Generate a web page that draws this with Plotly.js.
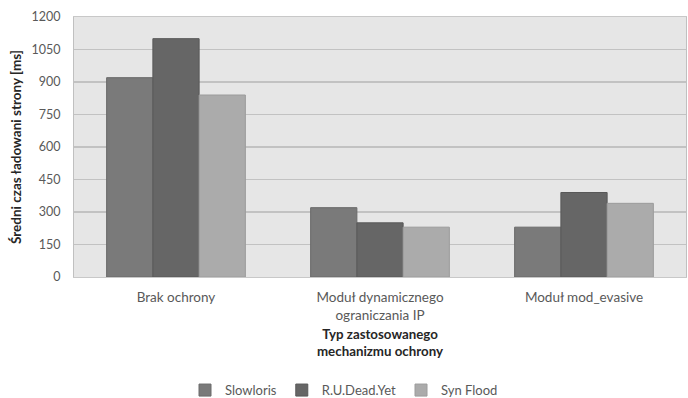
<!DOCTYPE html>
<html>
<head>
<meta charset="utf-8">
<script src="https://cdn.plot.ly/plotly-3.0.1.min.js"></script>
<style>
  html, body { margin: 0; padding: 0; background: #ffffff; }
  #chart { width: 688px; height: 398px; }
</style>
</head>
<body>
<div id="chart"></div>
<script>
// Protection mechanisms (x categories)
const categories = ['Brak ochrony', 'Moduł dynamicznego<br>ograniczania IP', 'Moduł mod_evasive'];

// Average page load time [ms] per attack type
const slowloris = [920, 320, 230];
const ruDeadYet = [1100, 250, 390];
const synFlood  = [840, 230, 340];

const seriesNames = ['Slowloris', 'R.U.Dead.Yet', 'Syn Flood'];
const yTicks = [0, 150, 300, 450, 600, 750, 900, 1050, 1200];

const fontFamily = 'Lato, "Open Sans", "DejaVu Sans", sans-serif';

function barTrace(name, values, fill, edge) {
  return {
    type: 'bar',
    name: name,
    x: categories,
    y: values,
    marker: { color: fill, line: { color: edge, width: 1 } },
    hoverinfo: 'none'
  };
}

const data = [
  barTrace(seriesNames[0], slowloris, '#7a7a7a', '#6a6a6a'),
  barTrace(seriesNames[1], ruDeadYet, '#666666', '#585858'),
  barTrace(seriesNames[2], synFlood,  '#ababab', '#9c9c9c')
];

const layout = {
  width: 688,
  height: 398,
  margin: { l: 74, r: 2, t: 17, b: 121, autoexpand: false },
  paper_bgcolor: '#ffffff',
  plot_bgcolor: '#e6e6e6',
  barmode: 'group',
  bargap: 0.32,
  bargroupgap: 0,
  font: { family: fontFamily, size: 12, color: '#595959' },
  showlegend: true,
  legend: {
    orientation: 'h',
    xref: 'container',
    x: 0.5, xanchor: 'center',
    y: -0.435, yanchor: 'middle',
    font: { size: 13, color: '#595959' },
    itemwidth: 30,
    tracegroupgap: 0
  },
  xaxis: {
    type: 'category',
    automargin: false,
    showgrid: false,
    showline: true,
    linecolor: '#c8c8c8',
    linewidth: 1,
    mirror: true,
    ticks: '',
    ticklabelstandoff: 8,
    tickfont: { size: 13.5, color: '#595959' },
    title: {
      text: '<b>Typ zastosowanego<br>mechanizmu ochrony</b>',
      font: { size: 13.3, color: '#262626' },
      standoff: 7
    }
  },
  yaxis: {
    range: [0, 1200],
    automargin: false,
    tickvals: yTicks,
    ticktext: yTicks.map(String),
    showgrid: true,
    gridcolor: '#c2c2c2',
    gridwidth: 1.8,
    showline: true,
    linecolor: '#c0c0c0',
    linewidth: 1,
    mirror: true,
    zeroline: false,
    ticks: '',
    ticklabelstandoff: 10,
    tickfont: { size: 12.5, color: '#595959' },
    title: {
      text: '<b>Średni czas ładowani strony [ms]</b>',
      font: { size: 13.5, color: '#262626' },
      standoff: 6
    }
  }
};

Plotly.newPlot('chart', data, layout, { staticPlot: true, displayModeBar: false });
</script>
</body>
</html>
